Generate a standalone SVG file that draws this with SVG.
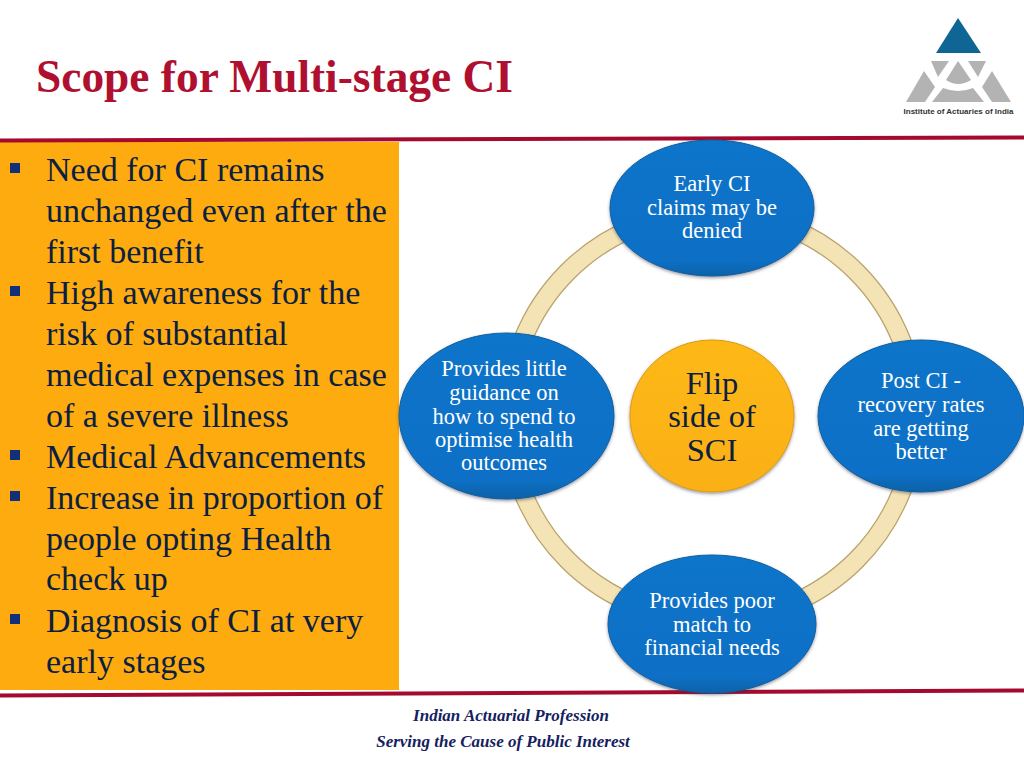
<svg xmlns="http://www.w3.org/2000/svg" width="1024" height="768" viewBox="0 0 1024 768">
<style>
text{font-family:"Liberation Serif","Times New Roman",serif}
.b{font-size:34px;fill:#0b2040}
.o{font-size:22.500px;fill:#fff;text-anchor:middle}
.f{font-size:17px;font-weight:bold;font-style:italic;fill:#14215e;text-anchor:middle}
.c{font-size:32.500px;fill:#0b2040;text-anchor:middle}
.sq{fill:#12307a}
.bl{fill:url(#blue);stroke:#0a5f9e;stroke-width:1;filter:url(#sh)}
.rule{stroke:#a50a2e;fill:none}
</style>
<defs>
<linearGradient id="blue" x1="0" y1="0" x2="0" y2="1"><stop offset="0" stop-color="#0b74ca"/><stop offset=".88" stop-color="#0a70c6"/><stop offset="1" stop-color="#0a62a8"/></linearGradient>
<linearGradient id="gold" x1="0" y1="0" x2="0" y2="1"><stop offset="0" stop-color="#fdb813"/><stop offset="1" stop-color="#fbb017"/></linearGradient>
<filter id="sh" x="-10%" y="-10%" width="120%" height="125%"><feDropShadow dx="0" dy="1.500" stdDeviation="1.500" flood-color="#334" flood-opacity=".5"/></filter>
</defs>
<rect width="1024" height="768" fill="#fff"/>
<text x="36" y="92" font-size="45.400" font-weight="bold" fill="#b01030">Scope for Multi-stage CI</text>
<g id="logo">
<polygon points="958,18 981,53 936,53" fill="#0f6594"/>
<g fill="#b3b3b3">
<polygon points="931,61 949,61 938,77"/>
<path d="M958 61L971 80Q958 88 946 80Z"/>
<polygon points="968,61 986,61 978,77"/>
<polygon points="924,71 935,87 925,102 906,102"/>
<polygon points="992,71 1011,102 992,102 982,87"/>
<path d="M943 88Q958 94 973 88L984 102H932Z"/>
</g>
<text x="958.500" y="114" font-size="8" font-weight="bold" text-anchor="middle" fill="#333" style="font-family:'Liberation Sans',sans-serif">Institute of Actuaries of India</text>
</g>
<rect x="0" y="142" width="399" height="548" fill="#fdab0f"/>
<path class="rule" d="M0 140.500L1024 137.500" stroke-width="4"/>
<path class="rule" d="M0 695.500L1024 690.500" stroke-width="4"/>
<g id="bullets">
<rect class="sq" x="10" y="163" width="10" height="10"/>
<rect class="sq" x="10" y="286" width="10" height="10"/>
<rect class="sq" x="10" y="450" width="10" height="10"/>
<rect class="sq" x="10" y="491" width="10" height="10"/>
<rect class="sq" x="10" y="614" width="10" height="10"/>
</g>
<g id="list" class="b">
<text x="46" y="181">Need for CI remains</text>
<text x="46" y="222">unchanged even after the</text>
<text x="46" y="263">first benefit</text>
<text x="46" y="304">High awareness for the</text>
<text x="46" y="345">risk of substantial</text>
<text x="46" y="386">medical expenses in case</text>
<text x="46" y="427">of a severe illness</text>
<text x="46" y="468">Medical Advancements</text>
<text x="46" y="509">Increase in proportion of</text>
<text x="46" y="550">people opting Health</text>
<text x="46" y="590">check up</text>
<text x="46" y="632">Diagnosis of CI at very</text>
<text x="46" y="673">early stages</text>
</g>
<g id="connectors" fill="none">
<circle cx="712" cy="416" r="204" stroke="#b9a26c" stroke-width="19.500"/>
<circle cx="712" cy="416" r="204" stroke="#f4e3b5" stroke-width="17"/>
</g>
<g id="node-top"><ellipse class="bl" cx="712" cy="208" rx="102" ry="68"/>
<text class="o" x="712" y="191">Early CI</text><text class="o" x="712" y="215">claims may be</text><text class="o" x="712" y="238">denied</text></g>
<g id="node-right"><ellipse class="bl" cx="921" cy="416" rx="103" ry="76"/>
<text class="o" x="921" y="388">Post CI -</text><text class="o" x="921" y="412">recovery rates</text><text class="o" x="921" y="436">are getting</text><text class="o" x="921" y="459">better</text></g>
<g id="node-bottom"><ellipse class="bl" cx="712" cy="624" rx="104" ry="69"/>
<text class="o" x="712" y="608">Provides poor</text><text class="o" x="712" y="632">match to</text><text class="o" x="712" y="655">financial needs</text></g>
<g id="node-left"><ellipse class="bl" cx="506.500" cy="416" rx="107.500" ry="83"/>
<text class="o" x="504" y="376">Provides little</text><text class="o" x="504" y="400">guidance on</text><text class="o" x="504" y="424">how to spend to</text><text class="o" x="504" y="447">optimise health</text><text class="o" x="504" y="470">outcomes</text></g>
<g id="node-center"><ellipse cx="712" cy="416" rx="82" ry="76" fill="url(#gold)" stroke="#d99a10" filter="url(#sh)"/>
<text class="c" x="712" y="394">Flip</text><text class="c" x="712" y="427">side of</text><text class="c" x="712" y="461">SCI</text></g>
<text class="f" x="511" y="721">Indian Actuarial Profession</text>
<text class="f" x="503" y="747">Serving the Cause of Public Interest</text>
</svg>
